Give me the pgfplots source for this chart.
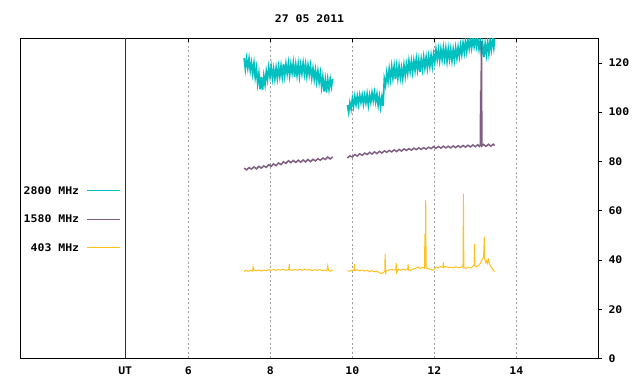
\documentclass[border=0pt]{standalone}
\usepackage{pgfplots}
\pgfplotsset{compat=1.18}
\usepackage{fontspec}
\setmainfont{DejaVu Sans Mono}[FakeStretch=1.1]
\definecolor{cteal}{RGB}{0,192,192}
\definecolor{cpurp}{RGB}{128,96,128}
\definecolor{corng}{RGB}{255,192,32}
\definecolor{cut}{RGB}{150,0,0}
\definecolor{cgrid}{RGB}{160,160,160}
\begin{document}
\begin{tikzpicture}[font=\fontsize{10.5}{12}\selectfont\bfseries]
\useasboundingbox (0,0) rectangle (640bp,384bp);
\begin{axis}[
  at={(20.7bp,25.5bp)}, anchor=south west,
  scale only axis, width=577.6bp, height=320.2bp,
  xmin=1.91, xmax=16, ymin=0, ymax=130,
  unbounded coords=jump,
  axis line style={line width=0.8bp},
  xtick={4.46,6,8,10,12,14},
  xticklabels={UT,6,8,10,12,14},
  ytick={0,20,40,60,80,100,120},
  xtick pos=right, xticklabel pos=left,
  ytick pos=right, yticklabel pos=right,
  tick align=outside,
  major tick length=4bp,
  x tick style={yshift=-4bp, line width=0.8bp, black},
  y tick style={line width=0.8bp, black},
  /pgf/number format/assume math mode=true,
  ticklabel style={font=\fontsize{10.5}{12}\selectfont\bfseries},
  xticklabel style={anchor=center, yshift=-8bp},
  yticklabel style={anchor=west, inner sep=0pt, xshift=6bp},
  xmajorgrids,
  x grid style={cgrid, line width=1bp, dash pattern=on 2bp off 2.5bp},
  title={27 05 2011},
  title style={at={(0.5,1)}, anchor=center, yshift=13.3bp, inner sep=0pt},
  legend style={draw=none, fill=none, at={(0.1732,0.4357)}, anchor=east,
    inner sep=0pt, outer sep=0pt, row sep=20.8bp, column sep=7.7bp,
    nodes={inner sep=0pt, text height=7.7bp, text depth=0pt}},
  legend cell align=right,
  legend plot pos=right,
  legend image code/.code={\draw[#1, line width=0.9bp] (0bp,0bp) -- (33bp,0bp);},
]
\addplot[cut, line width=0.8bp, forget plot] coordinates {(4.46,0) (4.46,130)};

% 2800 MHz
\addplot[cteal, line width=1.7bp] coordinates {
(7.36,122) (7.39,117.5) (7.42,121.7) (7.45,118) (7.48,121.7) (7.51,116.9) (7.54,120.1) (7.57,115.7) (7.60,119.8) (7.63,114.2)
(7.66,117.8) (7.69,111.7) (7.72,115.7) (7.75,109.3) (7.78,114.3) (7.81,109) (7.84,114.7) (7.87,111.2) (7.90,116.5) (7.93,113.3)
(7.96,118.2) (7.99,114.5) (8.02,118.4) (8.05,113.7) (8.08,117.6) (8.11,113.5) (8.14,117.9) (8.17,113.8) (8.20,118.3) (8.23,114.5)
(8.26,118.7) (8.29,114.4) (8.32,119.6) (8.35,114.8) (8.38,119.5) (8.41,115.7) (8.44,119.8) (8.47,114.9) (8.50,119.4) (8.53,116)
(8.56,120) (8.59,114.4) (8.62,119.3) (8.65,115.1) (8.68,119.5) (8.71,114.6) (8.74,119.2) (8.77,115.8) (8.80,119.9) (8.83,115.5)
(8.86,119.4) (8.89,114.7) (8.92,119) (8.95,115.3) (8.98,118.9) (9.01,114) (9.04,117.7) (9.07,113.4) (9.10,117.2) (9.13,112.5)
(9.16,116.6) (9.19,112.2) (9.22,115.8) (9.25,110.3) (9.28,114.3) (9.31,108.4) (9.34,113.1) (9.37,108) (9.40,113.2) (9.43,109.4)
(9.46,113.5) (9.49,110.3) (9.52,113.5)
(9.70,nan)
(9.88,102.9) (9.91,99.9) (9.94,103.8) (9.97,101.3) (10.00,105.4) (10.03,102.3) (10.06,106.3) (10.09,103.2) (10.12,106.5) (10.15,103.2)
(10.18,106.9) (10.21,104) (10.24,106.9) (10.27,103.3) (10.30,106.8) (10.33,103.8) (10.36,107.3) (10.39,102.9) (10.42,106.9) (10.45,104.1)
(10.48,107.9) (10.51,104.7) (10.54,108) (10.57,104.2) (10.60,107.3) (10.63,102.8) (10.66,106.3) (10.69,102.1) (10.72,106) (10.75,102.5)
(10.78,113.5) (10.81,110.8) (10.84,116) (10.87,112.5) (10.90,117.5) (10.93,113.5) (10.96,118.5) (10.99,114) (11.02,118.6) (11.05,113.5)
(11.08,118.5) (11.11,113.9) (11.14,118.7) (11.17,114) (11.20,117.9) (11.23,113.7) (11.26,119.1) (11.29,114.9) (11.32,119.3) (11.35,115.8)
(11.38,120.7) (11.41,116.6) (11.44,120.7) (11.47,116.3) (11.50,120.9) (11.53,117) (11.56,121.6) (11.59,117.2) (11.62,121.2) (11.65,116.3)
(11.68,121.5) (11.71,117.6) (11.74,122.3) (11.77,118) (11.80,122.2) (11.83,117.9) (11.86,122.5) (11.89,118.7) (11.92,123) (11.95,118.7)
(11.98,123.5) (12.01,120.2) (12.04,125.4) (12.07,121.4) (12.10,125.4) (12.13,121) (12.16,125.5) (12.19,121.5) (12.22,126.1) (12.25,121.7)
(12.28,125.8) (12.31,120.8) (12.34,125.7) (12.37,121.6) (12.40,125.5) (12.43,121) (12.46,125.4) (12.49,121.4) (12.52,126.1) (12.55,122)
(12.58,126.3) (12.61,122.6) (12.64,127) (12.67,123.5) (12.70,128) (12.73,124.3) (12.76,129) (12.79,124.8) (12.82,129.1) (12.85,125.9)
(12.88,129.8) (12.91,126.1) (12.94,130.2) (12.97,126.8) (13.00,130.3) (13.03,126.7) (13.06,130) (13.09,125.7) (13.12,129.2) (13.15,123.5)
(13.18,127.6) (13.21,122.4) (13.24,127.7) (13.27,123.5) (13.30,128.4) (13.33,123.8) (13.36,129.1) (13.39,125.4) (13.42,129.8) (13.45,126.2)
(13.47,129.9)
};
\addlegendentry{2800 MHz}

% 1580 MHz
\addplot[cpurp, line width=1.5bp] coordinates {
(7.36,77.3) (7.42,76.6) (7.48,77.5) (7.54,76.9) (7.60,77.8) (7.66,77.0) (7.72,78.0) (7.78,77.3) (7.84,78.2) (7.90,77.6)
(7.96,78.7) (8.02,78.0) (8.08,79.0) (8.14,78.3) (8.20,79.4) (8.26,78.7) (8.32,79.9) (8.38,79.2) (8.44,80.3) (8.50,79.5)
(8.56,80.4) (8.62,79.6) (8.68,80.5) (8.74,79.7) (8.80,80.6) (8.86,79.8) (8.92,80.8) (8.98,79.9) (9.04,80.9) (9.10,80.2)
(9.16,81.1) (9.22,80.5) (9.28,81.4) (9.34,80.8) (9.40,81.8) (9.46,81.0) (9.52,81.9)
(9.70,nan)
(9.88,81.4) (9.94,82.3) (10.00,81.8) (10.06,82.8) (10.12,82.2) (10.18,83.1) (10.24,82.5) (10.30,83.4) (10.36,82.8) (10.42,83.7)
(10.48,83.0) (10.54,83.9) (10.60,83.2) (10.66,84.1) (10.72,83.4) (10.78,84.3) (10.84,83.7) (10.90,84.5) (10.96,83.9) (11.02,84.7)
(11.08,84.0) (11.14,84.9) (11.20,84.2) (11.26,85.1) (11.32,84.5) (11.38,85.2) (11.44,84.6) (11.50,85.4) (11.56,84.8) (11.62,85.5)
(11.68,84.9) (11.74,85.6) (11.80,85.0) (11.86,85.8) (11.92,85.2) (11.98,86.0) (12.04,85.3) (12.10,86.1) (12.16,85.4) (12.22,86.2)
(12.28,85.5) (12.34,86.2) (12.40,85.5) (12.46,86.3) (12.52,85.6) (12.58,86.4) (12.64,85.7) (12.70,86.5) (12.76,85.8) (12.82,86.6)
(12.88,85.9) (12.94,86.7) (13.00,86.0) (13.06,86.8) (13.10,86.1) (13.12,86.5) (13.13,107) (13.14,106.5) (13.15,129) (13.16,86.3)
(13.20,86.9) (13.26,86.1) (13.32,87.0) (13.38,86.2) (13.44,87.0) (13.47,86.4)
};
\addlegendentry{1580 MHz}

% 403 MHz
\addplot[corng, line width=1bp] coordinates {
(7.36,35.2) (7.40,35.9) (7.46,35.4) (7.52,35.8) (7.57,35.5) (7.58,37.3) (7.60,35.9) (7.66,35.6) (7.72,36.0) (7.78,35.5)
(7.84,35.9) (7.90,35.6) (7.96,36.1) (8.02,35.8) (8.08,36.2) (8.14,35.8) (8.20,36.1) (8.26,35.9) (8.32,36.2) (8.38,35.8)
(8.45,36.1) (8.46,38.4) (8.47,36.0) (8.54,35.8) (8.60,36.1) (8.66,35.9) (8.72,36.2) (8.78,35.8) (8.84,36.3) (8.90,35.9)
(8.96,36.1) (9.02,35.7) (9.08,36.0) (9.14,35.8) (9.20,36.1) (9.26,35.7) (9.32,35.9) (9.38,35.6) (9.40,37.6) (9.42,35.8)
(9.46,35.4) (9.52,35.9)
(9.70,nan)
(9.88,35.6) (9.94,35.4) (10.00,35.9) (10.04,35.7) (10.05,38.4) (10.06,35.8) (10.12,36.0) (10.18,35.6) (10.24,35.9) (10.30,35.5)
(10.36,35.8) (10.42,35.3) (10.48,35.6) (10.54,35.2) (10.60,35.4) (10.66,34.8) (10.72,34.5) (10.76,35.0) (10.79,35.3) (10.80,42.5)
(10.81,34.6) (10.84,35.6) (10.90,36.0) (10.96,36.2) (11.02,35.8) (11.06,36.1) (11.07,38.8) (11.08,34.8) (11.12,36.2) (11.18,35.8)
(11.24,36.3) (11.30,35.9) (11.35,36.2) (11.36,38.4) (11.37,36.0) (11.42,35.8) (11.48,36.3) (11.54,36.6) (11.60,37.2) (11.66,36.5)
(11.72,37.0) (11.76,36.7) (11.77,50.5) (11.78,36.9) (11.79,64.4) (11.80,36.8) (11.84,36.5) (11.90,36.2) (11.96,35.8) (12.00,36.3)
(12.04,37.2) (12.10,36.8) (12.16,37.4) (12.21,36.9) (12.22,39.1) (12.23,37.0) (12.28,37.4) (12.34,36.9) (12.40,37.1) (12.46,36.8)
(12.52,37.2) (12.58,36.9) (12.64,37.0) (12.69,37.3) (12.70,38.3) (12.71,66.7) (12.72,36.8) (12.78,36.7) (12.84,37.0) (12.90,36.8)
(12.94,37.5) (12.97,38.0) (12.98,46.4) (12.99,37.6) (13.04,37.2) (13.08,37.8) (13.12,38.6) (13.16,40.0) (13.20,41.2) (13.22,49.4)
(13.23,40.2) (13.26,38.8) (13.28,39.8) (13.30,38.6) (13.32,40.1) (13.34,38.9) (13.37,37.5) (13.40,36.8) (13.43,36.0) (13.47,35.3)
};
\addlegendentry{403 MHz}
\end{axis}
\end{tikzpicture}
\end{document}
